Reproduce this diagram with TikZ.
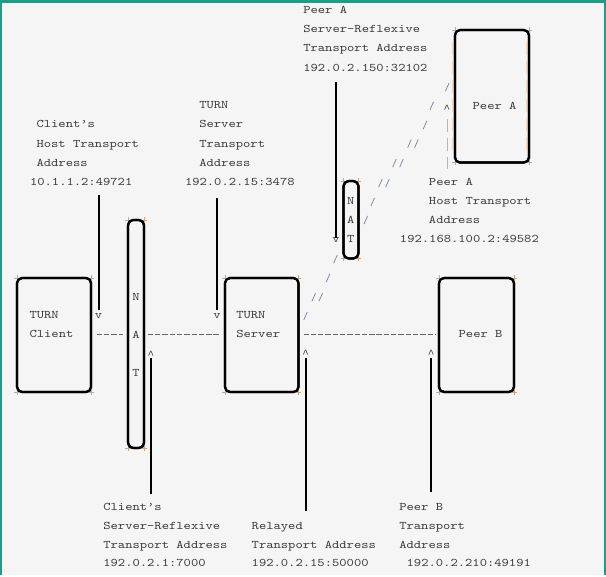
\documentclass[tikz,border=0pt]{standalone}
\usepackage{fontspec}
\newfontfamily\asciifont{lmmono10-regular.otf}[FakeStretch=1.2]
\newfontfamily\caretfont{Liberation Mono}
\definecolor{bgc}{HTML}{F5F5F5}
\definecolor{framec}{HTML}{17A085}
\definecolor{txtc}{HTML}{3A3A3A}
\definecolor{slashc}{HTML}{7088A8}
\definecolor{barc}{HTML}{E8A878}
\definecolor{dashc}{HTML}{6E645C}
\definecolor{crossc}{HTML}{C8A888}
\newcommand\caretglyph{{\caretfont\fontsize{11}{13}\selectfont\char"5E\relax}}
\begin{document}
\begin{tikzpicture}[x=1pt,y=-1pt,
  txt/.style={inner sep=0pt, outer sep=0pt, text=txtc, font=\asciifont\fontsize{11.6}{14}\selectfont},
  lbl/.style={txt, anchor=west, text height=7pt, text depth=0pt},
  ltr/.style={txt, anchor=center, text height=7pt, text depth=0pt},
  tipglyph/.style={txt, anchor=base},
  boxc/.style={draw=black, line width=2.2pt, rounded corners=5pt, inner sep=0pt, outer sep=0pt},
  ptr/.style={draw=black, line width=2pt},
  link/.style={draw=dashc, line width=1pt, dash pattern=on 5.4pt off 1.9pt},
  slash/.style={draw=slashc, line width=0.75pt},
  bar/.style={draw=barc, line width=0.9pt, dash pattern=on 13pt off 6.1pt},
  crossmark/.style={draw=crossc, line width=0.6pt},
]
% background and frame
\fill[bgc] (0,0) rectangle (606,575);
\draw[framec, line width=2.5pt] (1.2,575) -- (1.2,1.2) -- (604.8,1.2) -- (604.8,575);
\useasboundingbox (0,0) rectangle (606,575);

% box shapes (empty nodes)
\path
  node[boxc, minimum width=74pt,   minimum height=114pt]   (client) at (54,335) {}
  node[boxc, minimum width=16pt,   minimum height=228pt, rounded corners=6pt] (nat1) at (136,334) {}
  node[boxc, minimum width=73.5pt, minimum height=114pt]   (server) at (261.75,335) {}
  node[boxc, minimum width=75pt,   minimum height=114pt]   (peerB) at (476.5,335) {}
  node[boxc, minimum width=74pt,   minimum height=132.5pt] (peerA) at (492,96.25) {}
  node[boxc, minimum width=15pt,   minimum height=77.5pt, rounded corners=6pt] (nat2) at (351,219.75) {};

% corner '+' marks
\foreach \b in {client,nat1,server,peerB,peerA,nat2}{
  \foreach \a in {north west,north east,south west,south east}{
    \draw[crossmark] ([xshift=-2.6pt]\b.\a) -- ([xshift=2.6pt]\b.\a)
                     ([yshift=-2.6pt]\b.\a) -- ([yshift=2.6pt]\b.\a);
  }
}
% faint edge bars of Peer A
\draw[bar, line width=0.6pt, draw=barc!45] (452.6,41.8) -- (452.6,150.5);
\draw[bar, line width=0.6pt, draw=barc!45] (526.8,41.8) -- (526.8,150.5);

% redraw boxes on top of marks
\foreach \b in {client,nat1,server,peerB,peerA,nat2}{
  \draw[black, line width=2.2pt, rounded corners=5pt] (\b.north west) rectangle (\b.south east);
}

% text inside boxes
\node[lbl] (cl1) at (29.5,315) {TURN};
\node[lbl] (cl2) at (29.5,334) {Client};
\node[lbl] (sv1) at (236.3,315) {TURN};
\node[lbl] (sv2) at (236.3,334) {Server};
\node[lbl] (pb1) at (458.7,334) {Peer B};
\node[lbl] (pa1) at (472.7,105.7) {Peer A};
\node[ltr] (n1N) at (136,296.7) {N};
\node[ltr] (n1A) at (136,335) {A};
\node[ltr] (n1T) at (136,372.7) {T};
\node[ltr] (n2N) at (350.8,201) {N};
\node[ltr] (n2A) at (350.8,220) {A};
\node[ltr] (n2T) at (350.8,239) {T};

% dashed links
\draw[link] ([xshift=5.7pt]client.east) -- ([xshift=-5pt]client.east -| nat1.west);
\draw[link] ([xshift=3.7pt]client.east -| nat1.east) -- ([xshift=-4.3pt]client.east -| server.west);
\draw[link] ([xshift=5pt]server.east) -- ([xshift=-4pt]server.east -| peerB.west);

% diagonal slashes
\foreach \x/\y in {447.3/87, 431.7/106, 425/125, 409.5/143.5, 416.5/143.5, 394.5/163, 401.5/163,
                   380.5/183, 387.5/183, 372.7/202, 365.8/220, 335.5/259, 328/278,
                   313.8/297, 320.8/297, 305.5/316}{
  \draw[slash] (\x-1.8,\y+4.1) -- (\x+1.8,\y-4.1);
}
% vertical bar under caret near Peer A
\node[tipglyph] (u4) at (447,112) {\caretglyph};
\coordinate (u4end) at (447,169);
\draw[bar] (447,118.5) -- (u4end);

% top labels
\node[lbl] (hA1) at (36.5,124.3) {Client’s};
\node[lbl] (hA2) at (36.5,143.5) {Host Transport};
\node[lbl] (hA3) at (36.5,162.6) {Address};
\node[lbl] (hA4) at (30,181.7) {10.1.1.2:49721};

\node[lbl] (sA1) at (199.3,105.3) {TURN};
\node[lbl] (sA2) at (199.3,124.3) {Server};
\node[lbl] (sA3) at (199.3,143.5) {Transport};
\node[lbl] (sA4) at (199.3,162.6) {Address};
\node[lbl] (sA5) at (185,181.7) {192.0.2.15:3478};

\node[lbl] (pX1) at (303.3,10) {Peer A};
\node[lbl] (pX2) at (303.3,29.2) {Server-Reflexive};
\node[lbl] (pX3) at (303.3,48.3) {Transport Address};
\node[lbl] (pX4) at (303.3,67.5) {192.0.2.150:32102};

\node[lbl] (pH1) at (429,182.3) {Peer A};
\node[lbl] (pH2) at (429,201.3) {Host Transport};
\node[lbl] (pH3) at (429,220.3) {Address};
\node[lbl] (pH4) at (400,239.3) {192.168.100.2:49582};

% bottom labels
\node[lbl] (cS1) at (103.3,506.7) {Client’s};
\node[lbl] (cS2) at (103.3,525.7) {Server-Reflexive};
\node[lbl] (cS3) at (103.3,544.7) {Transport Address};
\node[lbl] (cS4) at (103.3,563.3) {192.0.2.1:7000};

\node[lbl] (rA1) at (251.7,525.7) {Relayed};
\node[lbl] (rA2) at (251.7,544.7) {Transport Address};
\node[lbl] (rA3) at (251.7,563.3) {192.0.2.15:50000};

\node[lbl] (bA1) at (399.3,506.7) {Peer B};
\node[lbl] (bA2) at (399.3,525.7) {Transport};
\node[lbl] (bA3) at (399.3,544.7) {Address};
\node[lbl] (bA4) at (406.7,563.3) {192.0.2.210:49191};

% pointer arrows (ASCII heads)
\node[tipglyph] (v1) at (98.6,318.6) {v};
\node[tipglyph] (v2) at (217,318.6) {v};
\node[tipglyph] (v3) at (336,242.4) {v};
\coordinate (p1) at (98.6,195);
\coordinate (p2) at (217,198);
\coordinate (p3) at (336,82);
\draw[ptr, shorten >=4pt] (p1) -- (v1.north);
\draw[ptr, shorten >=4pt] (p2) -- (v2.north);
\draw[ptr, shorten >=-1pt] (p3) -- (v3.north);

\node[tipglyph] (u1) at (150.8,358.2) {\caretglyph};
\node[tipglyph] (u2) at (305.6,357.8) {\caretglyph};
\node[tipglyph] (u3) at (431.3,357.8) {\caretglyph};
\coordinate (e1) at (150.8,494);
\coordinate (e2) at (305.6,511);
\coordinate (e3) at (431.3,492);
\draw[ptr] (u1.south) -- (e1);
\draw[ptr] (u2.south) -- (e2);
\draw[ptr] (u3.south) -- (e3);
\end{tikzpicture}
\end{document}
